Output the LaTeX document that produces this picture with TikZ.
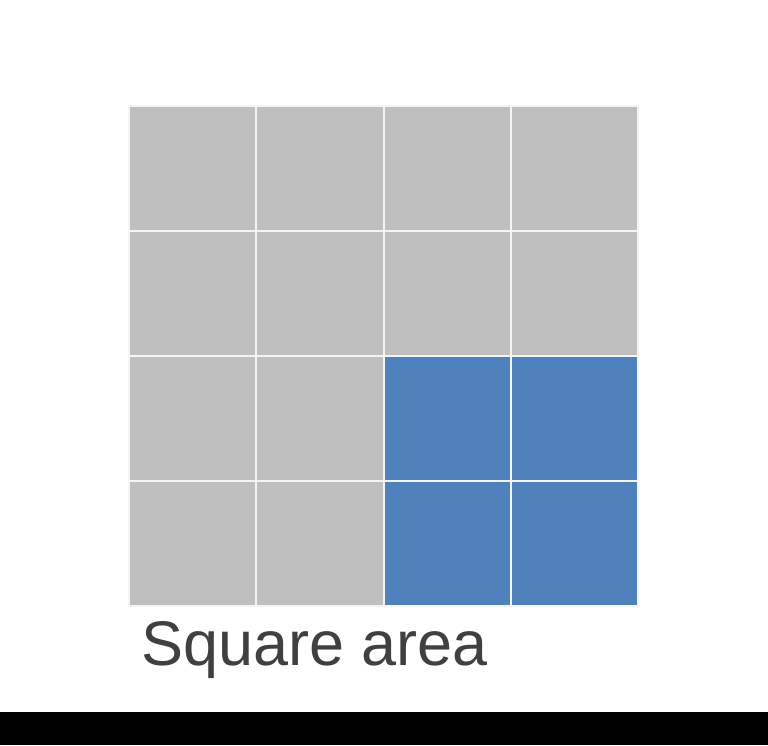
\documentclass[tikz,border=0pt]{standalone}
\usepackage{fontspec}
\setmainfont{Liberation Sans}
\definecolor{cellgray}{HTML}{BFBFBF}
\definecolor{cellblue}{HTML}{4F81BD}
\definecolor{textgray}{HTML}{404040}
\begin{document}
\begin{tikzpicture}[x=1pt,y=-1pt,
  cell/.style={rectangle,draw=white!92!gray,line width=2pt,minimum width=127.25pt,minimum height=125pt,inner sep=0pt,anchor=north west}]
\useasboundingbox (0,0) rectangle (768,745);
\fill[white] (0,0) rectangle (768,745);
\fill[black] (0,712) rectangle (768,745);
\foreach \r in {0,...,3}{
  \foreach \c in {0,...,3}{
    \pgfmathtruncatemacro{\isblue}{(\r>1)&&(\c>1)}
    \ifnum\isblue=1
      \node[cell,fill=cellblue] (c\r\c) at ({128+127.25*\c},{105+125*\r}) {};
    \else
      \node[cell,fill=cellgray] (c\r\c) at ({128+127.25*\c},{105+125*\r}) {};
    \fi
  }
}
\node[anchor=base west,inner sep=0pt,text=textgray,font=\fontsize{63}{70}\selectfont] (lbl) at (141,665) {Square area};
\end{tikzpicture}
\end{document}
